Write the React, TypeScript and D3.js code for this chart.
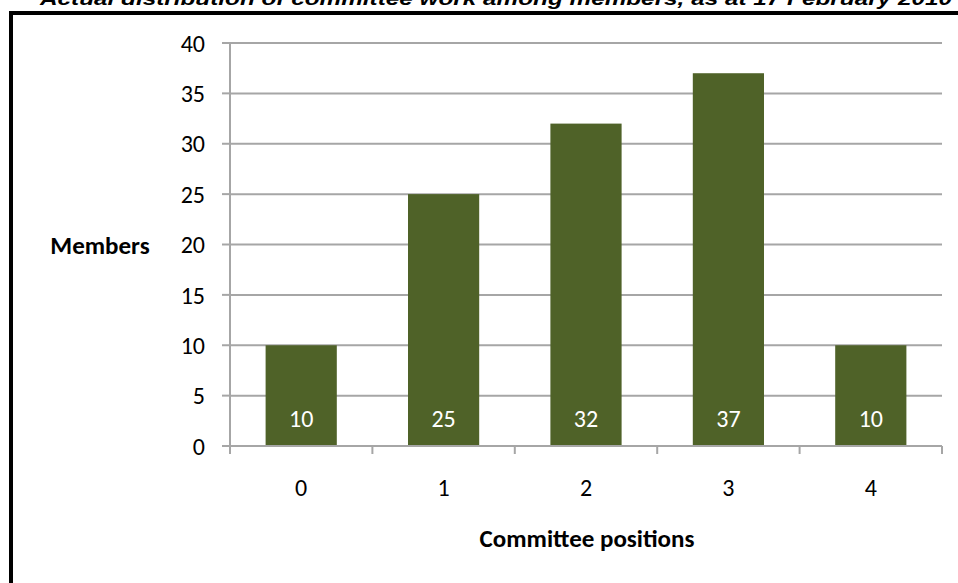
import React from "react";
import * as d3 from "d3";

const title = "Actual distribution of committee work among members, as at 17 February 2010";
const categories = ["0", "1", "2", "3", "4"];
const values = [10, 25, 32, 37, 10];
const yTicks = [0, 5, 10, 15, 20, 25, 30, 35, 40];
const xTitle = "Committee positions";
const yTitle = "Members";

const W = 958;
const H = 583;
const plot = { left: 230, right: 942, top: 43, bottom: 446 };
const font = "Carlito, Calibri, Lato, sans-serif";

export default function App() {
  const x = d3.scaleBand<string>().domain(categories).range([plot.left, plot.right]).paddingInner(0.5).paddingOuter(0.25);
  const xb = d3.scaleBand<string>().domain(categories).range([plot.left, plot.right]);
  const y = d3.scaleLinear().domain([0, 40]).range([plot.bottom, plot.top]);
  const grid = "#a6a6a6";
  const boundaries = [...categories.map((c) => xb(c) as number), plot.right];

  return (
    <div style={{ position: "absolute", left: 0, top: 0, width: W, height: H, overflow: "hidden", background: "#fff" }}>
      <svg width={W} height={H} style={{ display: "block" }}>
        <rect x={0} y={0} width={W} height={H} fill="#fff" />
        <text
          x={40}
          y={5}
          fontFamily="Liberation Sans, Arial, sans-serif"
          fontWeight="bold"
          fontStyle="italic"
          fontSize={19}
          textLength={912}
          lengthAdjust="spacingAndGlyphs"
          fill="#000"
        >
          {title}
        </text>
        <rect x={11} y={13} width={W + 20} height={H + 20} fill="none" stroke="#000" strokeWidth={4} />

        {yTicks.map((t) => (
          <g key={t}>
            {t > 0 && <line x1={plot.left} x2={plot.right} y1={y(t)} y2={y(t)} stroke={grid} strokeWidth={2} />}
            <line x1={plot.left - 8} x2={plot.left} y1={y(t)} y2={y(t)} stroke={grid} strokeWidth={2} />
            <text x={205} y={y(t)} dy="0.36em" textAnchor="end" fontFamily={font} fontSize={24} fill="#000">
              {t}
            </text>
          </g>
        ))}
        <line x1={plot.left} x2={plot.left} y1={plot.top} y2={plot.bottom} stroke={grid} strokeWidth={2} />

        {categories.map((c, i) => (
          <g key={c}>
            <rect x={x(c)} y={y(values[i])} width={x.bandwidth()} height={plot.bottom - y(values[i])} fill="#4f6228" />
            <text
              x={(x(c) as number) + x.bandwidth() / 2}
              y={427}
              textAnchor="middle"
              fontFamily={font}
              fontSize={24}
              fill="#fff"
            >
              {values[i]}
            </text>
            <text
              x={(xb(c) as number) + xb.bandwidth() / 2}
              y={496}
              textAnchor="middle"
              fontFamily={font}
              fontSize={24}
              fill="#000"
            >
              {c}
            </text>
          </g>
        ))}

        <line x1={plot.left} x2={plot.right} y1={plot.bottom} y2={plot.bottom} stroke={grid} strokeWidth={2} />
        {boundaries.map((b, i) => (
          <line key={i} x1={b} x2={b} y1={plot.bottom} y2={plot.bottom + 8} stroke={grid} strokeWidth={2} />
        ))}

        <text x={587} y={547} textAnchor="middle" fontFamily={font} fontWeight="bold" fontSize={25} fill="#000">
          {xTitle}
        </text>
        <text x={100} y={254} textAnchor="middle" fontFamily={font} fontWeight="bold" fontSize={25} fill="#000">
          {yTitle}
        </text>
      </svg>
    </div>
  );
}
